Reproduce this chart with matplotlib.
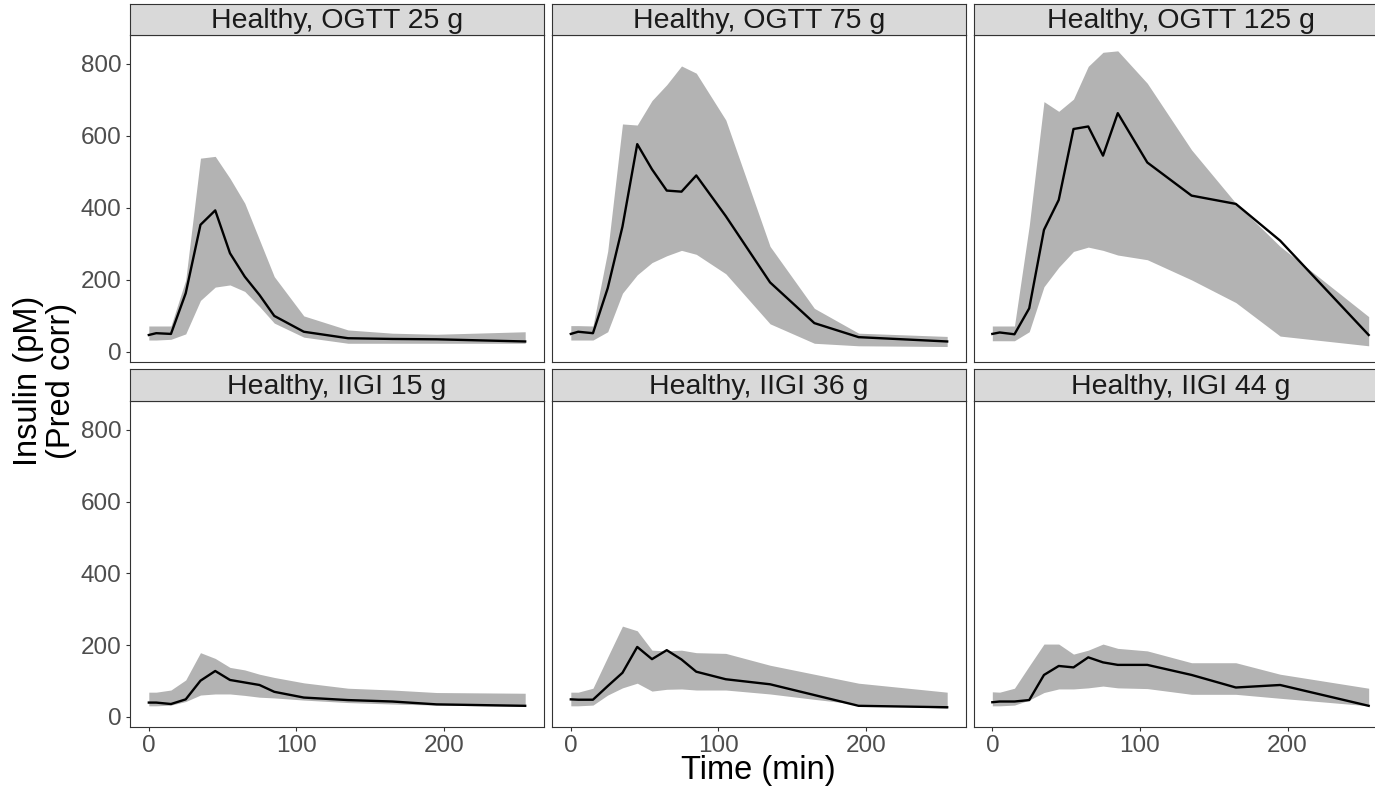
import numpy as np
import matplotlib
matplotlib.use('Agg')
import matplotlib.pyplot as plt

# sampling times (min)
time = [0, 5, 15, 25, 35, 45, 55, 65, 75, 85, 105, 135, 165, 195, 255]

titles = ['Healthy, OGTT 25 g', 'Healthy, OGTT 75 g', 'Healthy, OGTT 125 g',
          'Healthy, IIGI 15 g', 'Healthy, IIGI 36 g', 'Healthy, IIGI 44 g']

# median insulin and prediction interval per panel
ogtt25_med = [47, 52, 50, 163, 353, 393, 274, 209, 158, 100, 56, 38, 36, 35, 29]
ogtt25_hi = [72, 72, 72, 200, 538, 543, 482, 413, 311, 209, 100, 61, 52, 49, 56]
ogtt25_lo = [33, 33, 35, 50, 143, 180, 186, 168, 126, 80, 41, 24, 24, 24, 24]

ogtt75_med = [50, 56, 52, 177, 348, 577, 507, 448, 445, 490, 377, 193, 80, 41, 29]
ogtt75_hi = [73, 73, 72, 280, 633, 630, 698, 742, 794, 774, 644, 293, 121, 52, 43]
ogtt75_lo = [33, 33, 33, 56, 163, 214, 248, 267, 282, 271, 217, 78, 24, 17, 15]

ogtt125_med = [50, 54, 49, 121, 339, 422, 619, 626, 545, 663, 526, 434, 411, 309, 47]
ogtt125_hi = [72, 72, 72, 350, 695, 668, 702, 793, 832, 836, 746, 561, 413, 293, 98]
ogtt125_lo = [31, 31, 31, 56, 181, 235, 279, 291, 282, 269, 256, 200, 137, 44, 17]

iigi15_med = [40, 40, 36, 49, 101, 128, 103, 96, 89, 70, 54, 47, 43, 35, 31]
iigi15_hi = [69, 69, 75, 103, 179, 163, 138, 131, 119, 110, 95, 80, 75, 68, 66]
iigi15_lo = [31, 31, 33, 43, 61, 64, 64, 60, 55, 53, 47, 40, 36, 33, 29]

iigi36_med = [49, 48, 48, 86, 123, 195, 161, 186, 160, 126, 105, 91, 61, 31, 27]
iigi36_hi = [69, 69, 80, 167, 253, 240, 186, 184, 186, 179, 177, 144, 119, 94, 69]
iigi36_lo = [31, 31, 33, 61, 81, 94, 72, 77, 78, 75, 75, 64, 49, 35, 24]

iigi44_med = [41, 43, 43, 47, 117, 142, 138, 166, 152, 145, 145, 117, 82, 89, 31]
iigi44_hi = [70, 69, 80, 142, 203, 203, 175, 186, 203, 191, 184, 151, 151, 119, 80]
iigi44_lo = [31, 31, 33, 47, 68, 78, 78, 81, 86, 81, 79, 63, 63, 52, 31]

meds = [ogtt25_med, ogtt75_med, ogtt125_med, iigi15_med, iigi36_med, iigi44_med]
his = [ogtt25_hi, ogtt75_hi, ogtt125_hi, iigi15_hi, iigi36_hi, iigi44_hi]
los = [ogtt25_lo, ogtt75_lo, ogtt125_lo, iigi15_lo, iigi36_lo, iigi44_lo]

plt.rcParams['font.family'] = ['Liberation Sans', 'DejaVu Sans']

W, H = 1375, 789
fig = plt.figure(figsize=(W / 100, H / 100), dpi=100)

col_left = [130, 552, 973.5]
panel_w = 414
rows = [(35, 362, 4), (401, 727, 369)]  # panel top, panel bottom, strip top
border = '#333333'

for i in range(6):
    r, c = divmod(i, 3)
    top, bot, stop = rows[r]
    x0 = col_left[c]
    ax = fig.add_axes([x0 / W, (H - bot) / H, panel_w / W, (bot - top) / H])
    ax.fill_between(time, los[i], his[i], color='#B3B3B3', linewidth=0)
    ax.plot(time, meds[i], color='black', linewidth=1.7)
    ax.set_xlim(-12.75, 267.75)
    ax.set_ylim(-28, 880)
    ax.set_xticks([0, 100, 200])
    ax.set_yticks([0, 200, 400, 600, 800])
    for s in ax.spines.values():
        s.set_color(border)
        s.set_linewidth(0.8)
    ax.tick_params(direction='out', length=3, width=0.8, color=border,
                   labelcolor='#4D4D4D', labelsize=17.5, pad=3)
    if c != 0:
        ax.tick_params(axis='y', left=False, labelleft=False)
    if r != 1:
        ax.tick_params(axis='x', bottom=False, labelbottom=False)

    sax = fig.add_axes([x0 / W, (H - top) / H, panel_w / W, (top - stop) / H])
    sax.set_facecolor('#D9D9D9')
    sax.set_xticks([])
    sax.set_yticks([])
    for s in sax.spines.values():
        s.set_color(border)
        s.set_linewidth(0.8)
    sax.text(0.5, 0.45, titles[i], ha='center', va='center', fontsize=20.5,
             color='#1A1A1A', transform=sax.transAxes)

fig.text(758 / W, 1 - 771 / H, 'Time (min)', ha='center', va='center',
         fontsize=23.5, color='black')
fig.text(45 / W, 1 - 381 / H, 'Insulin (pM)\n(Pred corr)', ha='center',
         va='center', rotation=90, fontsize=23.5, color='black',
         linespacing=1.05)

fig.savefig('out.png', dpi=100)
